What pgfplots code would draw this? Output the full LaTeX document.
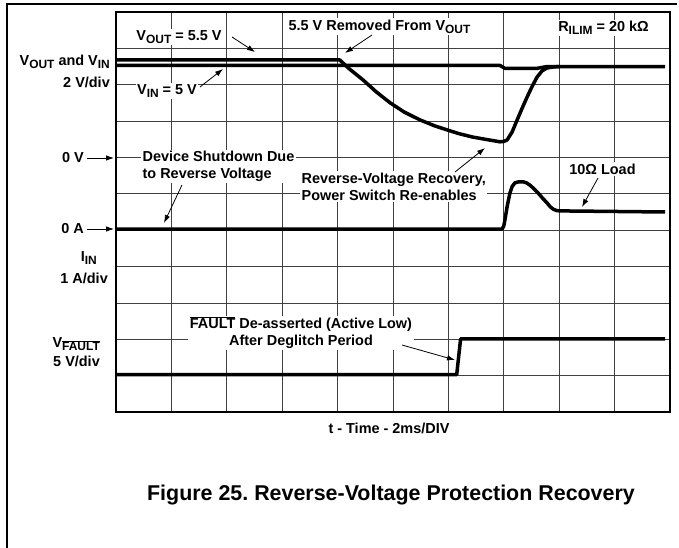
\documentclass[border=0pt]{standalone}
\usepackage{pgfplots}
\pgfplotsset{compat=1.18}
\usepackage{fontspec}
\setmainfont{Liberation Sans}
\usetikzlibrary{arrows.meta}
\newcommand\sub[1]{\raisebox{-0.45ex}{\fontsize{12}{12}\selectfont #1}}
\newcommand\fault{$\overline{\mbox{FAULT}}$}
\frenchspacing
\begin{document}
\begin{tikzpicture}[x=1bp,y=1bp,font=\bfseries\fontsize{14.5}{17}\selectfont,
  lab/.style={fill=white,inner sep=1.5bp},
  arr/.style={line width=0.8bp,-{Latex[length=8bp,width=5.5bp]}}]
\useasboundingbox (0,0) rectangle (679,548);
\draw[line width=1.3bp] (7,0) -- (7,544) -- (677,544);
\begin{axis}[at={(116bp,136bp)}, anchor=south west, width=554bp, height=400bp,
  scale only axis, xmin=0, xmax=10, ymin=0, ymax=11,
  xtick={0,...,10}, ytick={0,...,11}, xticklabels={}, yticklabels={},
  major tick length=0pt, grid=major,
  grid style={black!75, line width=0.8bp},
  axis line style={line width=2bp}]
% V_IN
\addplot[black, line width=3.5bp, line join=round] coordinates {
 (0,9.53) (6.93,9.53) (7.02,9.45) (7.60,9.45) (7.78,9.50) (9.91,9.50)};
% V_OUT
\addplot[black, line width=3.5bp, line join=round] coordinates {
 (0,9.68) (4.04,9.68) (4.2,9.45) (4.46,9.13) (4.7,8.8) (4.95,8.50) (5.2,8.25)
 (5.49,8.03) (5.75,7.87) (5.97,7.76) (6.2,7.65) (6.44,7.56) (6.7,7.49) (6.93,7.43)
 (7.0,7.44) (7.06,7.48) (7.15,7.7) (7.24,8.03) (7.33,8.35) (7.42,8.66) (7.51,8.95)
 (7.60,9.21) (7.69,9.38) (7.78,9.46) (7.9,9.49) (8.01,9.50)};
% I_IN
\addplot[black, line width=3.5bp, line join=round] coordinates {
 (0,5.03) (6.97,5.03) (7.0,5.12) (7.02,5.28) (7.06,5.65) (7.11,6.02) (7.15,6.2)
 (7.20,6.30) (7.27,6.33) (7.35,6.33) (7.41,6.30) (7.47,6.24) (7.55,6.13) (7.62,6.02)
 (7.70,5.88) (7.78,5.75) (7.84,5.64) (7.89,5.58) (7.95,5.54) (8.01,5.53) (9.91,5.50)};
% V_FAULT
\addplot[black, line width=3.5bp, line join=round] coordinates {
 (0,1.03) (6.15,1.03) (6.22,2.01) (9.91,2.01)};
\end{axis}
% annotations inside the plot
\node[lab] at (179,511) {V\sub{OUT} = 5.5 V};
\draw[arr] (232,511) -- (255,496);
\node[lab] at (167,457) {V\sub{IN} = 5 V};
\draw[arr] (200,461) -- (223,479);
\node[lab] at (379.5,521) {5.5 V Removed From V\sub{OUT}};
\draw[arr] (372,513) -- (345,495);
\node[lab] at (603.5,520) {R\sub{ILIM} = 20 kΩ};
\node[lab,align=left] at (218.5,381.5) {Device Shutdown Due\\to Reverse Voltage};
\draw[arr] (182,363) -- (164,325);
\node[lab,align=left,anchor=west] at (300,361.5) {Reverse-Voltage Recovery,\\Power Switch Re-enables};
\draw[arr] (455,376) -- (485,400);
\node[lab] at (602.5,379) {10Ω Load};
\draw[arr] (598,370) -- (582,341);
\node[lab,align=center] at (301,215) {\fault{} De-asserted (Active Low)\\After Deglitch Period};
\draw[arr] (402,203) -- (455,188);
% left labels
\node[anchor=east,inner sep=0] at (110,486) {V\sub{OUT} and V\sub{IN}};
\node[anchor=east,inner sep=0] at (110,466) {2 V/div};
\node[anchor=east,inner sep=0] at (84,390) {0 V};
\draw[arr] (87,390) -- (114,390);
\node[anchor=east,inner sep=0] at (84,319) {0 A};
\draw[arr] (87,319) -- (114,319);
\node[anchor=east,inner sep=0] at (97,290) {I\sub{IN}};
\node[anchor=east,inner sep=0] at (108,270) {1 A/div};
\node[anchor=east,inner sep=0] at (100,204) {V\sub{\fault}};
\node[anchor=east,inner sep=0] at (100,187) {5 V/div};
% axis title and caption
\node at (389,120) {t - Time - 2ms/DIV};
\node[font=\bfseries\fontsize{21.5}{24}\selectfont] at (391,53) {Figure 25. Reverse-Voltage Protection Recovery};
\end{tikzpicture}
\end{document}
